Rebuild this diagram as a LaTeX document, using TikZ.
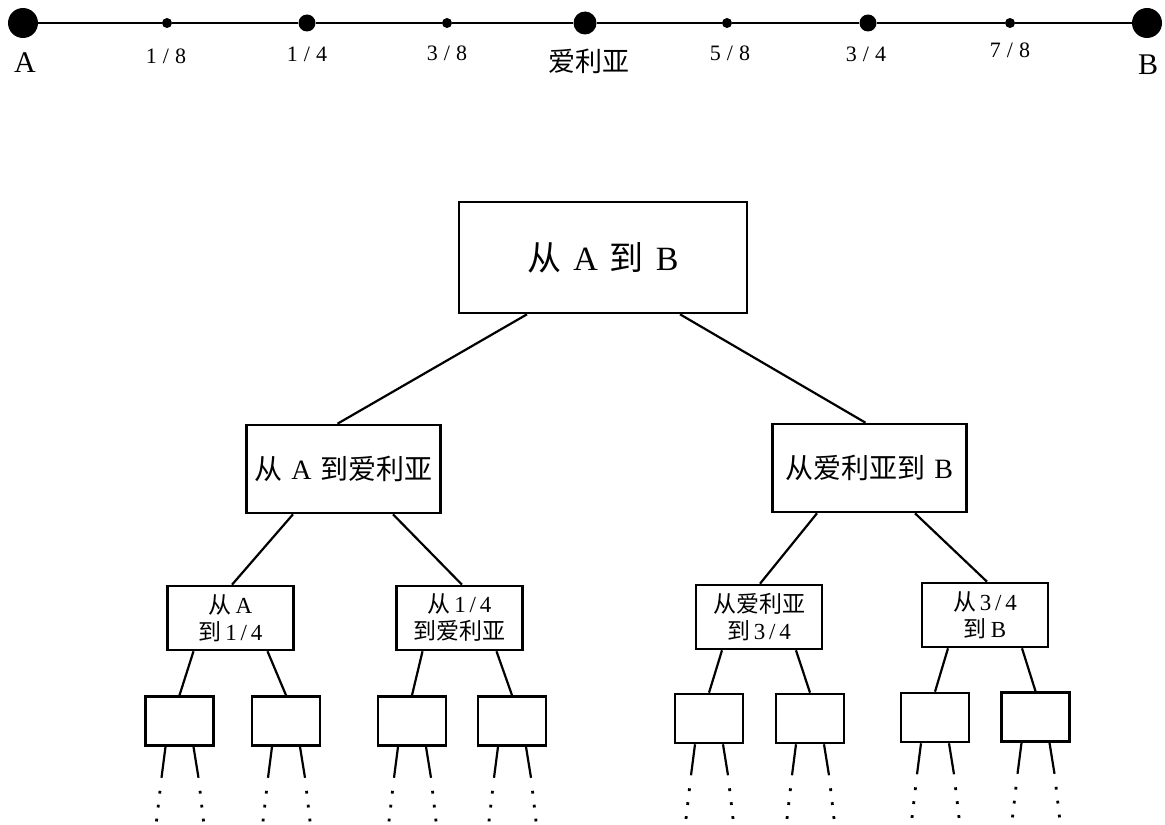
\documentclass[tikz,border=0pt]{standalone}
\usepackage{fontspec}
\setmainfont{Liberation Serif}
\newfontfamily\cjk{Noto Sans CJK SC}
\newcommand\zh[1]{{\cjk #1}}
\usetikzlibrary{calc}
\begin{document}
\begin{tikzpicture}[x=0.5pt,y=-0.5pt,
  box/.style={draw,line width=1.3pt,inner sep=0pt,align=center},
  rootbox/.style={box,minimum width=144pt,minimum height=55.5pt,font=\fontsize{17}{20}\selectfont},
  midbox/.style={box,minimum width=97pt,minimum height=44pt,font=\fontsize{14}{17}\selectfont},
  smallbox/.style={box,minimum width=63pt,minimum height=32pt,font=\fontsize{11.5}{13.5}\selectfont},
  leafbox/.style={box,minimum width=34pt,minimum height=24.5pt},
  link/.style={line width=1.1pt},
  trail/.style={line width=1.4pt,dash pattern=on 1.4pt off 5.6pt},
  ptdot/.style={circle,fill,inner sep=0pt,minimum size=#1},
  ptdot/.default=5pt,
  lab/.style={inner sep=0pt,font=\fontsize{11}{13}\selectfont},
  endlab/.style={inner sep=0pt,font=\fontsize{15}{18}\selectfont},
]
\useasboundingbox (0,0) rectangle (1165,824);

% top scale
\node[ptdot=15pt]   (pA) at (23,23) {};
\node[ptdot]        (p1) at (167,23) {};
\node[ptdot=8.5pt]  (p2) at (307,23) {};
\node[ptdot]        (p3) at (447,23) {};
\node[ptdot=11.5pt] (p4) at (585,23) {};
\node[ptdot]        (p5) at (727,23) {};
\node[ptdot=8.5pt]  (p6) at (868,23) {};
\node[ptdot]        (p7) at (1010,23) {};
\node[ptdot=15pt]   (pB) at (1147,23) {};
\draw[line width=1pt] (pA) -- (p1) -- (p2) -- (p3) -- (p4) -- (p5) -- (p6) -- (p7) -- (pB);

\node[endlab] (tA) at (25,63) {A};
\node[lab] (t1) at (166,56) {1\;/\;8};
\node[lab] (t2) at (307,54) {1\;/\;4};
\node[lab] (t3) at (447,53) {3\;/\;8};
\node[inner sep=0pt,font=\fontsize{13.5}{15}\selectfont] (t4) at (589,61) {\zh{爱利亚}};
\node[lab] (t5) at (730,53) {5\;/\;8};
\node[lab] (t6) at (866,54) {3\;/\;4};
\node[lab] (t7) at (1010,50) {7\;/\;8};
\node[endlab] (tB) at (1148,65) {B};

% tree
\node[rootbox] (root) at (603,257.5) {\zh{从}\hspace{0.35em}A\hspace{0.35em}\zh{到}\hspace{0.35em}B};
\node[midbox] (m1) at (343.5,469) {\zh{从}\hspace{0.3em}A\hspace{0.3em}\zh{到爱利亚}};
\node[midbox] (m2) at (869.5,468) {\zh{从爱利亚到}\hspace{0.3em}B};

\node[smallbox] (s1) at (230.5,618) {\zh{从}\,A\\\zh{到}\,1\,/\,4};
\node[smallbox] (s2) at (459.5,618) {\zh{从}\,1\,/\,4\\\zh{到爱利亚}};
\node[smallbox] (s3) at (759,617) {\zh{从爱利亚}\\\zh{到}\,3\,/\,4};
\node[smallbox] (s4) at (985,615) {\zh{从}\,3\,/\,4\\\zh{到}\,B};

\node[leafbox] (a) at (179.5,721) {};
\node[leafbox] (b) at (286,721) {};
\node[leafbox] (c) at (412,721) {};
\node[leafbox] (d) at (512,721) {};
\node[leafbox] (e) at (709,718.5) {};
\node[leafbox] (f) at (810,718.5) {};
\node[leafbox] (g) at (935,717.5) {};
\node[leafbox] (h) at (1035.5,717) {};

\draw[link] ($(root.south)+(-76,0)$) -- ($(m1.north)+(-6,0)$);
\draw[link] ($(root.south)+(77,0)$) -- ($(m2.north)+(-4,0)$);
\draw[link] ($(m1.south)+(-50.5,0)$) -- ($(s1.north)+(1.5,0)$);
\draw[link] ($(m1.south)+(49.5,0)$) -- ($(s2.north)+(2.5,0)$);
\draw[link] ($(m2.south)+(-52.5,0)$) -- ($(s3.north)+(1,0)$);
\draw[link] ($(m2.south)+(45.5,0)$) -- ($(s4.north)+(2,0)$);

\foreach \p/\l/\r in {s1/a/b,s2/c/d,s3/e/f,s4/g/h}{
  \draw[link] ($(\p.south)+(-37,0)$) -- (\l.north);
  \draw[link] ($(\p.south)+(37,0)$) -- (\r.north);
}

\foreach \n in {a,b,c,d,e,f,g,h}{
  \draw[link] ($(\n.south)+(-14,0)$) -- ($(\n.south)+(-18,31)$) coordinate (\n L);
  \draw[link] ($(\n.south)+(14,0)$) -- ($(\n.south)+(19,31)$) coordinate (\n R);
  \draw[trail] ($(\n L)+(-1.5,13)$) -- ($(\n L)+(-6,52)$);
  \draw[trail] ($(\n R)+(1.5,13)$) -- ($(\n R)+(6,52)$);
}
\end{tikzpicture}
\end{document}
